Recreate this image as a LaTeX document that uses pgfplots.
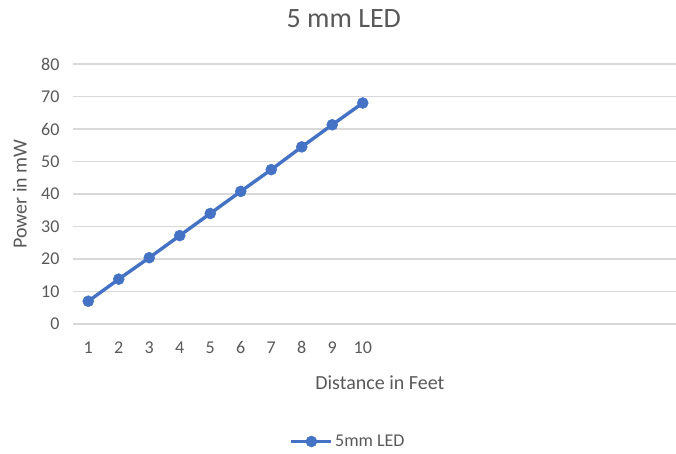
\documentclass[border=0pt]{standalone}
\usepackage{fontspec}
\setmainfont{Carlito}
\usepackage{pgfplots}
\pgfplotsset{compat=1.18}
\definecolor{lineblue}{HTML}{4472C4}
\definecolor{gridgray}{HTML}{D9D9D9}
\definecolor{textgray}{HTML}{595959}
\begin{document}
\begin{tikzpicture}[x=1pt,y=1pt]
\path[use as bounding box] (0,0) rectangle (676,454);
\begin{axis}[
  at={(73pt,130pt)}, anchor=south west,
  scale only axis, width=610pt, height=260pt,
  xmin=0.5, xmax=20.5, ymin=0, ymax=80,
  xtick={1,...,10}, ytick={0,10,...,80},
  ymajorgrids, grid style={color=gridgray, line width=1.2pt},
  axis line style={draw=none}, tick style={draw=none},
  /pgf/number format/assume math mode=true,
  ticklabel style={font=\fontsize{18}{21}\selectfont, text=textgray},
  yticklabel style={xshift=-10pt},
  xticklabel style={yshift=-14pt},
  title={5 mm LED},
  title style={at={(axis description cs:0.444,1.15)}, anchor=center, font=\fontsize{28}{31}\selectfont, text=textgray},
  xlabel={Distance in Feet},
  xlabel style={at={(axis description cs:0.503,-0.227)}, anchor=center, font=\fontsize{20}{23}\selectfont, text=textgray},
  ylabel={Power in mW},
  ylabel style={at={(axis description cs:-0.087,0.5)}, anchor=center, rotate=0, font=\fontsize{20}{23}\selectfont, text=textgray},
  legend style={at={(axis description cs:0.451,-0.452)}, anchor=center, draw=none, fill=none, font=\fontsize{18}{21}\selectfont, text=textgray},
  legend image code/.code={\draw[#1, mark=none] (0pt,0pt) -- (40pt,0pt); \draw[#1, only marks] plot coordinates {(20pt,0pt)};},
]
\addplot[color=lineblue, line width=3.4pt, mark=*, mark size=5.5pt, mark options={fill=lineblue, draw=lineblue, line width=0.5pt}]
coordinates {(1,7) (2,13.8) (3,20.4) (4,27.2) (5,34) (6,40.8) (7,47.5) (8,54.5) (9,61.3) (10,68)};
\addlegendentry{5mm LED}
\end{axis}
\end{tikzpicture}
\end{document}
